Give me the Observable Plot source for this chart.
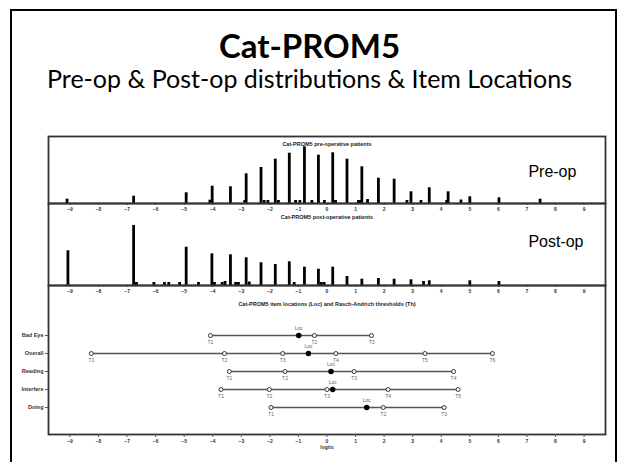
<!DOCTYPE html>
<html><head><meta charset="utf-8">
<script src="https://cdn.jsdelivr.net/npm/d3@7"></script>
<script src="https://cdn.jsdelivr.net/npm/@observablehq/plot@0.6"></script>
<style>
html,body{margin:0;padding:0;background:#fff;}
#slide{position:relative;width:619px;height:462px;overflow:hidden;background:#fff;}
#border{position:absolute;left:10px;top:9px;width:603px;height:480px;border:2.5px solid #000;}
#title{position:absolute;left:0;width:619px;top:25px;text-align:center;font:bold 33px Lato, sans-serif;color:#000;line-height:40px;}
#subtitle{position:absolute;left:0;width:619px;top:63px;text-align:center;font:25px Lato, sans-serif;color:#000;line-height:30px;}
.panel{position:absolute;left:0;}
.panel svg{background:transparent;overflow:visible;}
</style></head>
<body>
<div id="slide">
  <div id="border"></div>
  <div id="title">Cat-PROM5</div>
  <div id="subtitle">Pre-op &amp; Post-op distributions &amp; Item Locations</div>
  <div id="p1" class="panel" style="top:126px"></div>
  <div id="p2" class="panel" style="top:193px"></div>
  <div id="p3" class="panel" style="top:275px"></div>
</div>
<script>
// ---- data ----
const tickValues = [-9,-8,-7,-6,-5,-4,-3,-2,-1,0,1,2,3,4,5,6,7,8,9];

// pre-operative person distribution (logit, relative frequency)
const preLogit = [-9.1,-6.77,-4.93,-4.1,-4.02,-3.38,-2.88,-2.83,-2.31,-2.2,-2.07,-1.81,-1.7,-1.32,-1.1,-0.95,-0.79,-0.53,-0.3,-0.09,0.2,0.3,0.7,1.1,1.15,1.22,1.42,1.8,2.35,2.8,2.94,3.29,3.58,4.19,4.24,4.69,5.0,6.02,7.46];
const preFreq  = [4.3,7.3,10.7,3.3,17.3,16.7,3,29.7,36,3,3,44.3,3,50.3,3,3,56.7,3,48.3,3,50.7,3,44.3,3,3,36.7,4,25.3,24.3,3,11.7,3,15.7,3,11.7,3.5,6.7,5.7,4.3];

// post-operative person distribution
const postLogit = [-9.07,-6.77,-6.67,-6.06,-5.69,-5.54,-5.16,-4.93,-4.5,-4.03,-3.94,-3.67,-3.57,-3.38,-3.2,-3.1,-2.83,-2.72,-2.31,-1.81,-1.32,-1.15,-0.79,-0.3,-0.2,-0.1,0.2,0.7,1.22,1.8,2.35,2.94,3.38,3.58,5.0,6.02];
const postFreq  = [34.7,60,3,3,3,3,3,38.3,3,31.7,3,3,4,30.7,3,3,27.7,3.5,22.7,21,23.7,3,18.3,16.3,3,3,18.3,9,6.3,7,6.3,5.7,4,4.7,4.7,4];

// item locations and Rasch-Andrich thresholds
const items = ["Bad Eye","Overall","Reading","Interfere","Doing"];
const itemLoc = [-0.99,-0.65,0.14,0.2,1.39];
const badEyeTh = [-4.08,-0.44,1.56];
const overallTh = [-8.25,-3.59,-1.55,0.31,3.43,5.79];
const readingTh = [-3.42,-1.47,0.95,4.43];
const interfereTh = [-3.71,-2.02,0.0,2.14,4.59];
const doingTh = [-1.96,1.97,4.1];

// ---- build tables ----
const pre = preLogit.map((x,i)=>({x, n: preFreq[i]}));
const post = postLogit.map((x,i)=>({x, n: postFreq[i]}));
const thByItem = [badEyeTh, overallTh, readingTh, interfereTh, doingTh];
const thr = [];
thByItem.forEach((arr,i)=>arr.forEach((x,j)=>thr.push({item: items[i], x, label: "T"+(j+1)})));
const spans = thByItem.map((arr,i)=>({item: items[i], x1: d3.min(arr), x2: d3.max(arr)}));
const locs = items.map((item,i)=>({item, x: itemLoc[i]}));

const FONT = "Arial, 'Liberation Sans', sans-serif";
const xdom = [-9.75, 9.75];
const common = {width: 619, marginLeft: 48, marginRight: 14, style: {background: "transparent", fontFamily: FONT}};

function distPanel(data, h, ymax, title, titleDy, tag, tagY){
  return Plot.plot({
    ...common,
    height: 10 + h + 19, marginTop: 10, marginBottom: 19,
    x: {domain: xdom, axis: null},
    y: {domain: [0, ymax], axis: null},
    marks: [
      Plot.ruleX(data, {x: "x", y1: 0, y2: "n", stroke: "#000", strokeWidth: 2.8}),
      Plot.axisX({ticks: tickValues, tickSize: 2, tickPadding: 1.5, fontSize: 5, fontWeight: "bold", fill: "#333", stroke: "#555", label: null}),
      Plot.frame({stroke: "#333", strokeWidth: 1.8}),
      Plot.text([title], {frameAnchor: "top", dy: titleDy, fontSize: 5.5, fontWeight: "bold", fill: "#222"}),
      Plot.text([tag], {x: 7.05, y: tagY, textAnchor: "start", fontSize: 16, fill: "#000", fontFamily: FONT})
    ]
  });
}

document.getElementById("p1").append(distPanel(pre, 67, 67, "Cat-PROM5 pre-operative patients", 6, "Pre-op", 32));
document.getElementById("p2").append(distPanel(post, 82, 82, "Cat-PROM5 post-operative patients", 12, "Post-op", 44));

const p3 = Plot.plot({
  ...common,
  height: 10 + 149 + 28, marginTop: 10, marginBottom: 28,
  x: {domain: xdom, axis: null},
  y: {type: "point", domain: items, range: [49.3, 142.7], axis: null},
  marks: [
    Plot.frame({stroke: "#333", strokeWidth: 1.8}),
    Plot.ruleY(spans, {y: "item", x1: "x1", x2: "x2", stroke: "#555", strokeWidth: 1.5}),
    Plot.dot(thr, {x: "x", y: "item", r: 2, fill: "#fff", stroke: "#333", strokeWidth: 1}),
    Plot.dot(locs, {x: "x", y: "item", r: 2, fill: "#000", stroke: "#000"}),
    Plot.text(thr, {x: "x", y: "item", text: "label", dy: 6.5, fontSize: 5, fill: "#666"}),
    Plot.text(locs, {x: "x", y: "item", text: () => "Loc", dy: -7, fontSize: 5, fill: "#666"}),
    Plot.axisY({tickSize: 3, tickPadding: 2, fontSize: 5.5, fontWeight: "bold", fill: "#333", stroke: "#555", label: null}),
    Plot.axisX({ticks: tickValues, tickSize: 3, tickPadding: 2, fontSize: 5, fontWeight: "bold", fill: "#333", stroke: "#555",
      label: "logits", labelAnchor: "center", labelArrow: "none", labelOffset: 14}),
    Plot.text(["Cat-PROM5 item locations (Loc) and Rasch-Andrich thresholds (Th)"], {frameAnchor: "top", dy: 17, fontSize: 5.5, fontWeight: "bold", fill: "#222"})
  ]
});
document.getElementById("p3").append(p3);
</script>
</body></html>
